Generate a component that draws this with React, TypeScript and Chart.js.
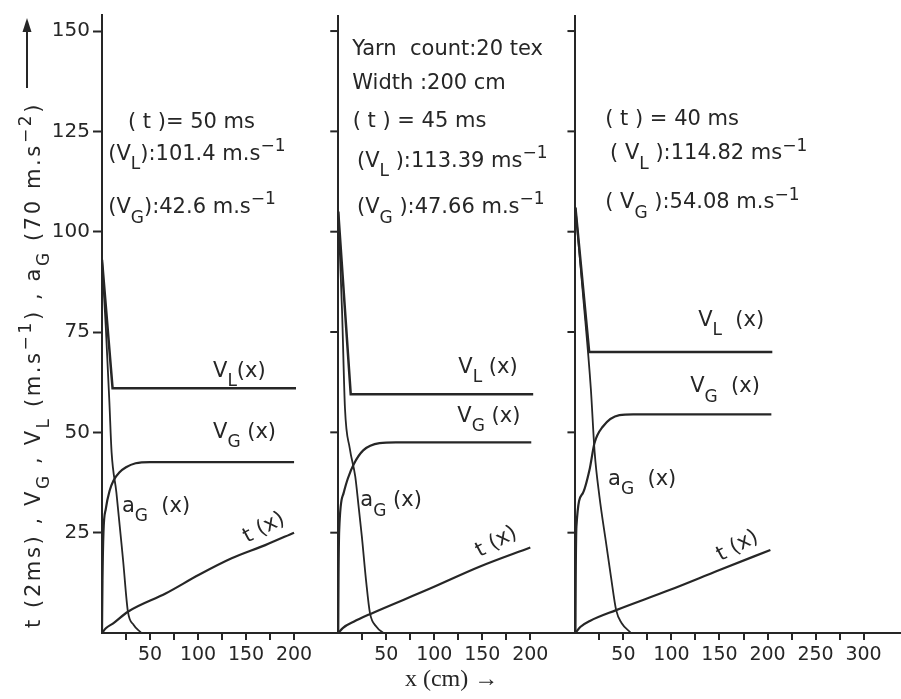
import React, { useEffect, useRef } from 'react';
import { Chart, registerables } from 'chart.js';
Chart.register(...registerables);

const INK = '#262626';
const SANS = "'DejaVu Sans', sans-serif";
const SERIF = "'Liberation Serif', 'DejaVu Serif', serif";

// x-offset (cm units) of each panel on the shared x axis
const PANEL_OFFSETS = [0, 246, 493];
const PANEL_TICK_MAX = [200, 200, 300];
const X_MAX = 832;
const Y_MAX = 154;
const Y_TICKS = [25, 50, 75, 100, 125, 150];
const X_TICK_STEP = 25;
const X_LABELS = [50, 100, 150, 200, 250, 300];

// Panel 1 : t = 50 ms
const P1_VL = [[0, 93], [11, 61], [202, 61]];
const P1_VG = [[0, 0], [0.5, 13], [1.5, 25], [4, 31], [8, 35.5], [12, 38], [18, 40], [25, 41.3], [35, 42.3], [50, 42.6], [200, 42.6]];
const P1_AG = [[0, 93], [4, 76], [7.6, 58], [10, 45], [15, 35], [22, 18], [27, 5.3], [33, 2], [41, 0]];
const P1_T = [[0, 0], [4, 1.2], [11.7, 2.4], [27, 5.3], [66.7, 9.9], [101, 14.5], [135, 18.6], [170, 21.9], [200, 25]];

// Panel 2 : t = 45 ms
const P2_VL = [[0, 105], [13, 59.5], [203, 59.5]];
const P2_VG = [[0, 0], [0.3, 14], [1, 25.7], [5.5, 34.8], [10, 38.5], [16, 42], [26, 45.5], [43, 47.3], [60, 47.5], [201, 47.5]];
const P2_AG = [[0, 105], [4, 80], [7, 56], [12, 46], [17.7, 39], [21, 32], [24.6, 24], [29, 13], [33, 5], [40, 1.5], [47, 0]];
const P2_T = [[0, 0], [5, 1.3], [16, 2.8], [33, 4.7], [95, 11], [147, 16.5], [200, 21.3]];

// Panel 3 : t = 40 ms
const P3_VL = [[0, 106], [14.3, 70], [205, 70]];
const P3_VG = [[0, 0], [0.3, 14], [1, 26.5], [7.6, 34.8], [14.6, 40.6], [19.8, 47.3], [28.4, 51.4], [45.8, 54.3], [60, 54.5], [204, 54.5]];
const P3_AG = [[0, 106], [8, 84], [16, 61], [20, 45], [25, 34], [32, 22.3], [37, 14], [42.4, 5.7], [48, 2.5], [58, 0]];
const P3_T = [[0, 0], [5, 1.5], [15, 3], [42.4, 5.7], [97.9, 10.7], [150, 15.7], [203, 20.7]];

const PANELS = [
  { VL: P1_VL, VG: P1_VG, AG: P1_AG, T: P1_T },
  { VL: P2_VL, VG: P2_VG, AG: P2_AG, T: P2_T },
  { VL: P3_VL, VG: P3_VG, AG: P3_AG, T: P3_T },
];

// Text blocks (panel, x in cm, y in axis units)
const NOTES = [
  { p: 0, x: 27, y: 125.8, text: '( t )= 50 ms' },
  { p: 0, x: 6.5, y: 117.9, text: '(V_{L}):101.4 m.s^{−1}' },
  { p: 0, x: 6.5, y: 104.6, text: '(V_{G}):42.6 m.s^{−1}' },
  { p: 1, x: 14.6, y: 144, text: 'Yarn  count:20 tex' },
  { p: 1, x: 14.6, y: 135.5, text: 'Width :200 cm' },
  { p: 1, x: 15, y: 126.2, text: '( t ) = 45 ms' },
  { p: 1, x: 19.5, y: 116.2, text: '(V_{L} ):113.39 ms^{−1}' },
  { p: 1, x: 19.5, y: 104.6, text: '(V_{G} ):47.66 m.s^{−1}' },
  { p: 2, x: 31, y: 126.6, text: '( t ) = 40 ms' },
  { p: 2, x: 36, y: 118, text: '( V_{L} ):114.82 ms^{−1}' },
  { p: 2, x: 31, y: 105.8, text: '( V_{G} ):54.08 m.s^{−1}' },
];

const CURVE_LABELS = [
  { p: 0, x: 115.6, y: 63.8, text: 'V_{L}(x)', rot: 0 },
  { p: 0, x: 115.6, y: 48.6, text: 'V_{G} (x)', rot: 0 },
  { p: 0, x: 20.8, y: 30.2, text: 'a_{G}  (x)', rot: 0 },
  { p: 0, x: 168, y: 26.5, text: 't (x)', rot: -28 },
  { p: 1, x: 125, y: 64.8, text: 'V_{L} (x)', rot: 0 },
  { p: 1, x: 124, y: 52.6, text: 'V_{G} (x)', rot: 0 },
  { p: 1, x: 23, y: 31.6, text: 'a_{G} (x)', rot: 0 },
  { p: 1, x: 164, y: 23, text: 't (x)', rot: -28 },
  { p: 2, x: 127.8, y: 76.5, text: 'V_{L}  (x)', rot: 0 },
  { p: 2, x: 119.5, y: 60, text: 'V_{G}  (x)', rot: 0 },
  { p: 2, x: 34, y: 36.9, text: 'a_{G}  (x)', rot: 0 },
  { p: 2, x: 168, y: 22, text: 't (x)', rot: -28 },
];

const Y_TITLE = 't (2ms) , V_{G} , V_{L} (m.s^{−1}) , a_{G} (70 m.s^{−2})';
const X_TITLE = 'x (cm) →';

// ---- helpers ----
type Seg = { t: string; k: number };
function parseRich(s: string): Seg[] {
  const segs: Seg[] = [];
  let buf = '';
  let i = 0;
  while (i < s.length) {
    if ((s[i] === '_' || s[i] === '^') && s[i + 1] === '{') {
      if (buf) { segs.push({ t: buf, k: 0 }); buf = ''; }
      const end = s.indexOf('}', i);
      segs.push({ t: s.slice(i + 2, end), k: s[i] === '_' ? 1 : 2 });
      i = end + 1;
    } else { buf += s[i]; i++; }
  }
  if (buf) segs.push({ t: buf, k: 0 });
  return segs;
}

function drawRich(ctx: CanvasRenderingContext2D, text: string, x: number, y: number, size: number, align: 'left' | 'center', family = SANS) {
  const segs = parseRich(text);
  const fontFor = (k: number) => `${k ? Math.round(size * 0.82) : size}px ${family}`;
  let w = 0;
  for (const s of segs) { ctx.font = fontFor(s.k); w += ctx.measureText(s.t).width; }
  let cx = align === 'center' ? x - w / 2 : x;
  ctx.textAlign = 'left';
  ctx.textBaseline = 'alphabetic';
  for (const s of segs) {
    ctx.font = fontFor(s.k);
    const dy = s.k === 1 ? size * 0.45 : s.k === 2 ? -size * 0.42 : 0;
    ctx.fillText(s.t, cx, y + dy);
    cx += ctx.measureText(s.t).width;
  }
}

const X_TICKS: { v: number; label: string; start: boolean }[] = [];
PANEL_OFFSETS.forEach((off, i) => {
  if (i > 0) X_TICKS.push({ v: off, label: '', start: true });
  for (let k = X_TICK_STEP; k <= PANEL_TICK_MAX[i]; k += X_TICK_STEP) {
    X_TICKS.push({ v: off + k, label: X_LABELS.includes(k) ? String(k) : '', start: false });
  }
});
const isStart = (v: number) => PANEL_OFFSETS.slice(1).some((o) => Math.abs(o - v) < 1e-6);

const overlay = {
  id: 'overlay',
  afterDraw(chart: any) {
    const { ctx } = chart;
    const x = chart.scales.x;
    const y = chart.scales.y;
    ctx.save();
    ctx.fillStyle = INK;
    ctx.strokeStyle = INK;
    ctx.lineWidth = 2;
    // small y ticks on panel axes 2 and 3
    PANEL_OFFSETS.slice(1).forEach((off) => {
      const px = x.getPixelForValue(off);
      Y_TICKS.forEach((v) => {
        const py = y.getPixelForValue(v);
        ctx.beginPath();
        ctx.moveTo(px - 8, py);
        ctx.lineTo(px, py);
        ctx.stroke();
      });
    });
    // text blocks
    NOTES.forEach((n) => {
      drawRich(ctx, n.text, x.getPixelForValue(PANEL_OFFSETS[n.p] + n.x), y.getPixelForValue(n.y), 21, 'left');
    });
    CURVE_LABELS.forEach((n) => {
      const px = x.getPixelForValue(PANEL_OFFSETS[n.p] + n.x);
      const py = y.getPixelForValue(n.y);
      if (n.rot) {
        ctx.save();
        ctx.translate(px, py);
        ctx.rotate((n.rot * Math.PI) / 180);
        drawRich(ctx, n.text, 0, 7, 21, 'center');
        ctx.restore();
      } else {
        drawRich(ctx, n.text, px, py, 21, 'left');
      }
    });
    // y title (rotated)
    ctx.save();
    ctx.translate(40, 628);
    ctx.rotate(-Math.PI / 2);
    (ctx as any).letterSpacing = '2.6px';
    drawRich(ctx, Y_TITLE, 0, 0, 21, 'left');
    (ctx as any).letterSpacing = '0px';
    ctx.restore();
    // arrow at top of y title
    ctx.beginPath();
    ctx.moveTo(27, 88);
    ctx.lineTo(27, 28);
    ctx.stroke();
    ctx.beginPath();
    ctx.moveTo(27, 18);
    ctx.lineTo(22.5, 32);
    ctx.lineTo(31.5, 32);
    ctx.closePath();
    ctx.fill();
    // x title
    ctx.font = `24px ${SERIF}`;
    ctx.textAlign = 'center';
    ctx.textBaseline = 'alphabetic';
    ctx.fillText(X_TITLE, x.getPixelForValue(PANEL_OFFSETS[1] + 118), 686);
    ctx.restore();
  },
};

export default function App() {
  const ref = useRef<HTMLCanvasElement>(null);
  useEffect(() => {
    document.body.style.margin = '0';
    const datasets: any[] = [];
    PANELS.forEach((pn, i) => {
      const off = PANEL_OFFSETS[i];
      const mk = (pts: number[][], width: number, smooth: boolean) => ({
        data: pts.map((p) => ({ x: off + p[0], y: p[1] })),
        borderColor: INK,
        borderWidth: width,
        pointRadius: 0,
        fill: false,
        tension: 0,
        cubicInterpolationMode: smooth ? 'monotone' : 'default',
      });
      datasets.push(mk(pn.VL, 2.5, false));
      datasets.push(mk(pn.VG, 2.2, true));
      datasets.push(mk(pn.AG, 1.8, true));
      datasets.push(mk(pn.T, 2.2, true));
    });
    const chart = new Chart(ref.current as HTMLCanvasElement, {
      type: 'line',
      data: { datasets },
      options: {
        animation: false,
        responsive: false,
        maintainAspectRatio: false,
        layout: { padding: { top: 15, right: 0, left: 0, bottom: 0 } },
        plugins: { legend: { display: false }, tooltip: { enabled: false } },
        scales: {
          x: {
            type: 'linear',
            min: 0,
            max: X_MAX,
            afterBuildTicks: (s: any) => { s.ticks = X_TICKS.map((t) => ({ value: t.v })); },
            afterFit: (s: any) => { s.height = 66; },
            ticks: {
              autoSkip: false,
              maxRotation: 0,
              minRotation: 0,
              padding: 4,
              color: INK,
              font: { family: SANS, size: 19 },
              callback: (_v: any, idx: number) => X_TICKS[idx] ? X_TICKS[idx].label : '',
            },
            grid: {
              drawOnChartArea: true,
              color: (c: any) => (c.tick && isStart(c.tick.value) ? INK : 'transparent'),
              lineWidth: 2,
              tickColor: (c: any) => (c.tick && isStart(c.tick.value) ? 'transparent' : INK),
              tickLength: 7,
              tickWidth: 2,
            },
            border: { display: true, color: INK, width: 2 },
          },
          y: {
            min: 0,
            max: Y_MAX,
            afterBuildTicks: (s: any) => { s.ticks = Y_TICKS.map((v) => ({ value: v })); },
            afterFit: (s: any) => { s.width = 102; },
            ticks: {
              padding: 3,
              color: INK,
              font: { family: SANS, size: 20 },
              callback: (v: any) => String(v),
            },
            grid: { drawOnChartArea: false, tickLength: 9, tickWidth: 2, tickColor: INK, color: INK },
            border: { display: true, color: INK, width: 2 },
          },
        },
      } as any,
      plugins: [overlay],
    });
    return () => chart.destroy();
  }, []);
  return (
    <div style={{ width: 901, height: 699, background: '#fff' }}>
      <canvas ref={ref} width={901} height={699} style={{ display: 'block' }} />
    </div>
  );
}
